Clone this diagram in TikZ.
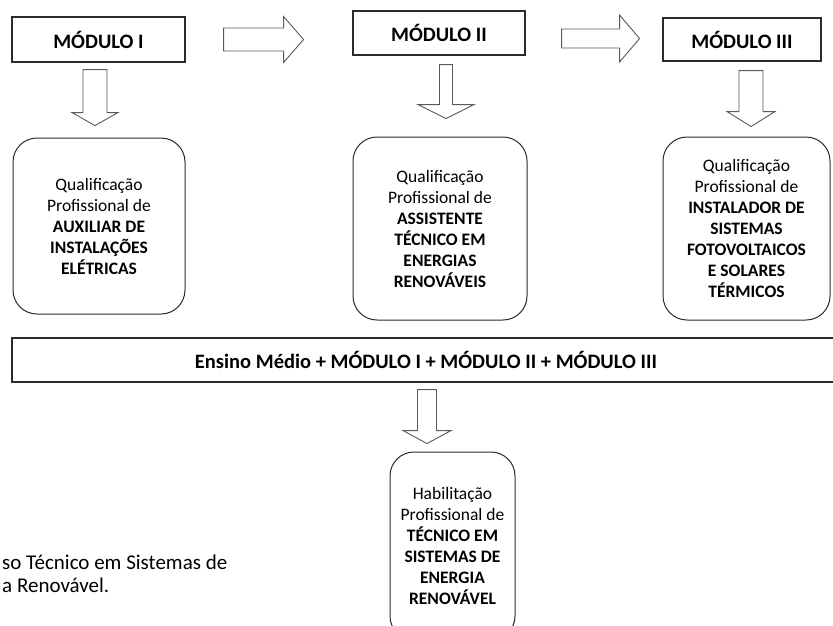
\documentclass[tikz,border=0pt]{standalone}
\usepackage{fontspec}
\setmainfont{Carlito}
\usepackage{tikz}
\usetikzlibrary{calc, positioning}
\definecolor{linha}{HTML}{2B2B2B}
\definecolor{contorno}{HTML}{5A5A5A}
\tikzset{
    modulo/.style={draw=linha, line width=1.1pt, inner sep=0pt,
        font=\fontsize{20.5}{24}\selectfont\bfseries},
    qualif/.style={draw=linha, line width=1pt, rounded corners=24pt,
        inner sep=0pt, align=center, font=\fontsize{17.5}{21}\selectfont},
    seta/.style={draw=contorno, line width=0.9pt, fill=white},
}
\NewDocumentCommand{\setabloco}{%
    O{}     % drawing options
    mm      % start and tip of the block arrow
    O{12pt}O{24pt}O{14pt}% shaft half width, head half width, head length
    }{%
    \coordinate (#2#3) at ($(#3)!#6!(#2)$);
    \draw[seta,#1] ($(#2)!#4!90:(#3)$) -- ($(#2#3)!#4!90:(#3)$)
        -- ($(#2#3)!#5!90:(#3)$) -- (#3) -- ($(#2#3)!#5!-90:(#3)$)
        -- ($(#2#3)!#4!-90:(#3)$) -- ($(#2)!#4!-90:(#3)$) -- cycle;
}
\begin{document}
\begin{tikzpicture}[x=1pt, y=-1pt]
    \clip (0,0) rectangle (833,625);
    % top row: the three modules
    \node[modulo, minimum width=173pt, minimum height=45pt] (m1) at (98.5,39.5) {MÓDULO I};
    \node[modulo, minimum width=172pt, minimum height=44pt] (m2) at (439,33) {MÓDULO II};
    \node[modulo, minimum width=158pt, minimum height=43pt] (m3) at (742,39.5) {MÓDULO III};

    % qualifications
    \node[qualif, minimum width=172pt, minimum height=176pt] (q1) at (99,226)
        {Qualificação\\Profissional de\\\textbf{AUXILIAR DE}\\\textbf{INSTALAÇÕES}\\\textbf{ELÉTRICAS}};
    \node[qualif, minimum width=174pt, minimum height=183pt] (q2) at (440,228.5)
        {Qualificação\\Profissional de\\\textbf{ASSISTENTE}\\\textbf{TÉCNICO EM}\\\textbf{ENERGIAS}\\\textbf{RENOVÁVEIS}};
    \node[qualif, minimum width=167pt, minimum height=183pt] (q3) at (746.5,228.5)
        {Qualificação\\Profissional de\\\textbf{INSTALADOR DE}\\\textbf{SISTEMAS}\\\textbf{FOTOVOLTAICOS}\\\textbf{E SOLARES}\\\textbf{TÉRMICOS}};

    \node[modulo, minimum width=828pt, minimum height=44pt] (em) at (426,360)
        {Ensino Médio + MÓDULO I + MÓDULO II + MÓDULO III};

    \node[qualif, minimum width=125pt, minimum height=188pt] (hab) at (452.5,546)
        {Habilitação\\Profissional de\\\textbf{TÉCNICO EM}\\\textbf{SISTEMAS DE}\\\textbf{ENERGIA}\\\textbf{RENOVÁVEL}};

    \node[anchor=west, align=left, inner sep=0pt, font=\fontsize{21}{23}\selectfont]
        (legenda) at (2,574) {so Técnico em Sistemas de\\a Renovável.};

    % block arrows
    \coordinate (r1i) at ($(m1.east)+(38,0)$);
    \coordinate (r1f) at ($(r1i)+(80,0)$);
    \coordinate (r2i) at ($(m2.east)+(36,5.5)$);
    \coordinate (r2f) at ($(r2i)+(78,0)$);
    \coordinate (a1i) at ($(m1.south)+(-3.5,7)$);
    \coordinate (a1f) at ($(a1i)+(0,56)$);
    \coordinate (a2i) at ($(m2.south)+(7,9)$);
    \coordinate (a2f) at ($(a2i)+(0,54)$);
    \coordinate (a3i) at ($(m3.south)+(9,9)$);
    \coordinate (a3f) at ($(a3i)+(0,56)$);
    \coordinate (a4i) at ($(em.south)+(1,7)$);
    \coordinate (a4f) at ($(a4i)+(0,54)$);

    \setabloco{r1i}{r1f}[11.5pt][23pt][20pt]
    \setabloco{r2i}{r2f}[9.5pt][23.5pt][20pt]
    \setabloco{a1i}{a1f}[12pt][23pt][13pt]
    \setabloco{a2i}{a2f}[6.5pt][28pt][14pt]
    \setabloco{a3i}{a3f}[12pt][24pt][15pt]
    \setabloco{a4i}{a4f}[9.5pt][24pt][13pt]
\end{tikzpicture}
\end{document}
